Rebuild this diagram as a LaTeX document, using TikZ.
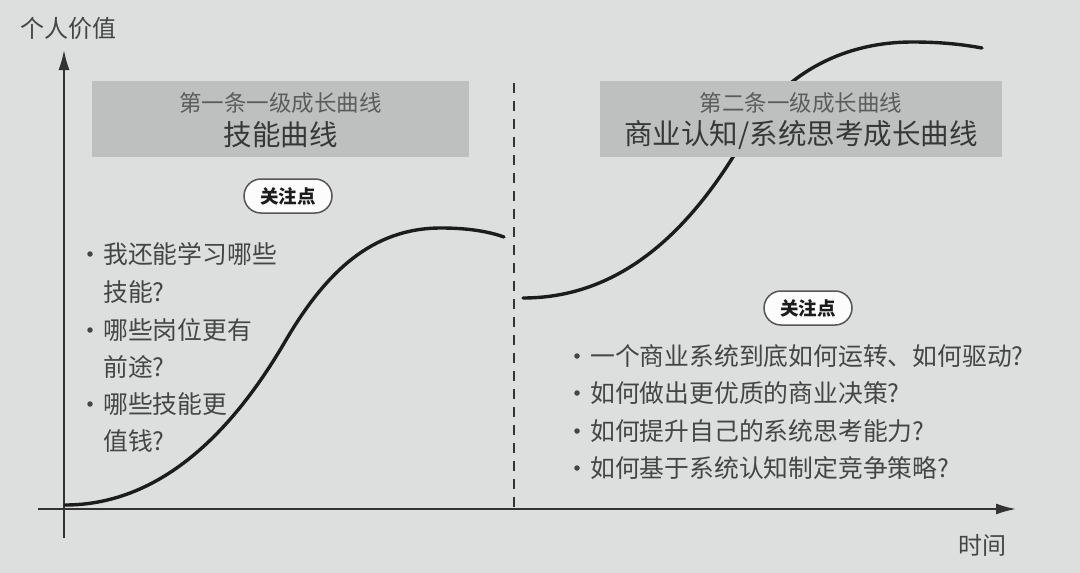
\documentclass[tikz,border=0pt]{standalone}
\usepackage{fontspec}
\setmainfont{Noto Sans CJK SC}
\usetikzlibrary{arrows.meta}
\definecolor{bg}{HTML}{DCDFDE}
\definecolor{boxfill}{HTML}{BEC0C0}
\definecolor{txt}{HTML}{454545}
\definecolor{subtxt}{HTML}{5C5C5C}
\definecolor{ink}{HTML}{1C1C1C}
\tikzset{
  axis/.style={draw=ink!90, line width=1.8pt},
  curve/.style={draw=ink, line width=3.4pt, line cap=round},
  divider/.style={draw=ink!90, line width=1.8pt, dash pattern=on 10pt off 8pt},
  titlebox/.style={fill=boxfill, draw=none},
  subtitle/.style={text=subtxt, font=\fontsize{22.5}{26}\selectfont, inner sep=0pt},
  maintitle/.style={text=ink!88, font=\fontsize{28.5}{32}\selectfont, inner sep=0pt},
  pill/.style={draw=ink!75, line width=1.5pt, fill=white!92!bg, rounded corners=17pt, minimum width=88pt, minimum height=34pt, inner sep=0pt, font=\fontsize{18.5}{20}\selectfont\bfseries, text=ink},
  item/.style={anchor=west, inner sep=0pt, text=txt, font=\fontsize{24.8}{28}\selectfont},
  bullet/.style={circle, fill=txt, inner sep=0pt, minimum size=5.5pt},
  axlabel/.style={inner sep=0pt, text=txt, font=\fontsize{24}{28}\selectfont},
}
\begin{document}
\begin{tikzpicture}[x=1pt,y=-1pt]
\fill[bg] (0,0) rectangle (1080,573);
\useasboundingbox (0,0) rectangle (1080,573);

% axes
\coordinate (yb) at (64,538);
\coordinate (yt) at (64,50);
\coordinate (xl) at (38,509);
\coordinate (xr) at (1016,509);
\draw[axis,-{Latex[length=20pt,width=11pt]}] (yb) -- (yt);
\draw[axis,-{Latex[length=20pt,width=11pt]}] (xl) -- (xr);
\node[axlabel] (ylab) at (68,28) {个人价值};
\node[axlabel] (xlab) at (982,545) {时间};

% divider
\coordinate (dt) at (514,83);
\coordinate (db) at (514,509);
\draw[divider] (dt) -- (db);

% curves
\draw[curve] (65,505) .. controls (155,505) and (228,440) .. (286,340)
  .. controls (326,272) and (372,228) .. (441,228)
  .. controls (470,228) and (490,232) .. (504,237);
\draw[curve] (523,298) .. controls (610,298) and (683,245) .. (745,137)
  .. controls (785,68) and (850,42) .. (912,42)
  .. controls (945,42) and (965,45) .. (982,48);

% title boxes
\fill[titlebox] (92,81) rectangle (469,157);
\node[subtitle] (t1a) at (280.5,103) {第一条一级成长曲线};
\node[maintitle] (t1b) at (280.5,135) {技能曲线};
\fill[titlebox] (600,81) rectangle (1002,157);
\node[subtitle] (t2a) at (801,103) {第二条一级成长曲线};
\node[maintitle] (t2b) at (801,135) {商业认知/系统思考成长曲线};

% pills
\node[pill] (p1) at (288,196) {关注点};
\node[pill] (p2) at (808,308) {关注点};

% left items
\node[bullet] (lb1) at (90,254) {};
\node[item] (l1) at (103,254) {我还能学习哪些};
\node[item] (l1b) at (103,292) {技能?};
\node[bullet] (lb2) at (90,330) {};
\node[item] (l2) at (103,330) {哪些岗位更有};
\node[item] (l2b) at (103,367) {前途?};
\node[bullet] (lb3) at (90,404) {};
\node[item] (l3) at (103,404) {哪些技能更};
\node[item] (l3b) at (103,441) {值钱?};

% right items
\node[bullet] (rb1) at (577,356) {};
\node[item] (r1) at (590,356) {一个商业系统到底如何运转、如何驱动?};
\node[bullet] (rb2) at (577,393) {};
\node[item] (r2) at (590,393) {如何做出更优质的商业决策?};
\node[bullet] (rb3) at (577,431) {};
\node[item] (r3) at (590,431) {如何提升自己的系统思考能力?};
\node[bullet] (rb4) at (577,468) {};
\node[item] (r4) at (590,468) {如何基于系统认知制定竞争策略?};
\end{tikzpicture}
\end{document}
